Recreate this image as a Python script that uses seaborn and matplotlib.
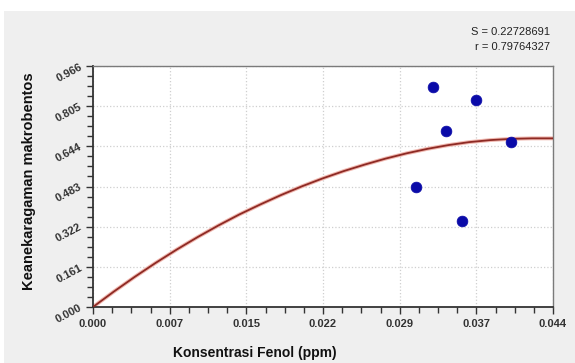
import numpy as np
import pandas as pd
import matplotlib
matplotlib.use("Agg")
import matplotlib.pyplot as plt
from matplotlib.patches import Rectangle
from matplotlib.ticker import AutoMinorLocator
import seaborn as sns

# Datos observados
konsentrasi = [0.0309, 0.0325, 0.0338, 0.0353, 0.0366, 0.0400]
keanekaragaman = [0.483, 0.882, 0.704, 0.345, 0.830, 0.661]

# Curva ajustada
kurva_x = [0.000, 0.002, 0.004, 0.006, 0.008, 0.010, 0.012, 0.014, 0.016,
           0.018, 0.020, 0.022, 0.024, 0.026, 0.028, 0.030, 0.032, 0.034,
           0.036, 0.038, 0.040, 0.042, 0.044]
kurva_y = [0.000, 0.062, 0.121, 0.177, 0.230, 0.280, 0.327, 0.371, 0.411,
           0.449, 0.484, 0.516, 0.545, 0.571, 0.595, 0.616, 0.634, 0.649,
           0.661, 0.669, 0.674, 0.676, 0.676]

xtick_labels = ['0.000', '0.007', '0.015', '0.022', '0.029', '0.037', '0.044']
ytick_labels = ['0.000', '0.161', '0.322', '0.483', '0.644', '0.805', '0.966']
stat_text = ['S = 0.22728691', 'r = 0.79764327']

sns.set_style("white")
plt.rcParams['font.family'] = ['Liberation Sans', 'DejaVu Sans']

df_pts = pd.DataFrame({'x': konsentrasi, 'y': keanekaragaman})
df_fit = pd.DataFrame({'x': kurva_x, 'y': kurva_y})

fig = plt.figure(figsize=(5.75, 3.63), dpi=100, facecolor='white')
fig.patches.append(Rectangle((4 / 575, 0), 1, 1 - 11 / 363, transform=fig.transFigure,
                             facecolor='#efefef', edgecolor='none', zorder=-10))
ax = fig.add_axes([93 / 575, 1 - 307 / 363, 460 / 575, 241 / 363])
ax.set_facecolor('white')

# Curva con halo claro y punto de datos
sns.lineplot(data=df_fit, x='x', y='y', ax=ax, color='#f0b8b0', linewidth=2.8, zorder=2)
sns.lineplot(data=df_fit, x='x', y='y', ax=ax, color='#8e2a24', linewidth=1.3, zorder=3)
sns.scatterplot(data=df_pts, x='x', y='y', ax=ax, color='#0a0aa8', s=60,
                edgecolor='#0a0aa8', linewidth=0.5, zorder=4)

ax.set_xlim(0, 0.044)
ax.set_ylim(0, 0.966)
ax.set_xticks(np.linspace(0, 0.044, 7), xtick_labels)
ax.set_yticks(np.linspace(0, 0.966, 7), ytick_labels)
ax.xaxis.set_minor_locator(AutoMinorLocator(4))
ax.yaxis.set_minor_locator(AutoMinorLocator(4))
ax.tick_params(axis='both', which='major', length=5, width=1, color='#333333',
               labelsize=8, labelcolor='#333333', direction='out')
ax.tick_params(axis='both', which='minor', length=4, width=1, color='#333333', direction='out')
ax.tick_params(axis='both', which='both', bottom=True, left=True)
for lbl in ax.get_xticklabels():
    lbl.set_fontweight('bold')
for lbl in ax.get_yticklabels():
    lbl.set_fontweight('bold')
    lbl.set_rotation(28)
    lbl.set_rotation_mode('anchor')
    lbl.set_ha('right')
    lbl.set_va('center')

ax.grid(True, which='major', linestyle=':', color='#cfcfcf', linewidth=0.9)
for s in ['left', 'bottom']:
    ax.spines[s].set_color('#333333')
    ax.spines[s].set_linewidth(1.3)
for s in ['top', 'right']:
    ax.spines[s].set_color('#7a7a7a')
    ax.spines[s].set_linewidth(1.0)

# Configuracion de etiquetas
ax.set_xlabel('Konsentrasi Fenol (ppm)', fontsize=10, fontweight='bold', color='#111111', va='center')
ax.xaxis.set_label_coords(0.352, -0.19)
ax.set_ylabel('Keanekaragaman makrobentos', fontsize=10.5, fontweight='bold', color='#111111', va='center')
ax.yaxis.set_label_coords(-0.14, 0.52)

fig.text(550 / 575, 1 - 32 / 363, stat_text[0], ha='right', va='center', fontsize=8, color='#222222')
fig.text(550 / 575, 1 - 47 / 363, stat_text[1], ha='right', va='center', fontsize=8, color='#222222')

plt.savefig('out.png', dpi=100, facecolor=fig.get_facecolor())
